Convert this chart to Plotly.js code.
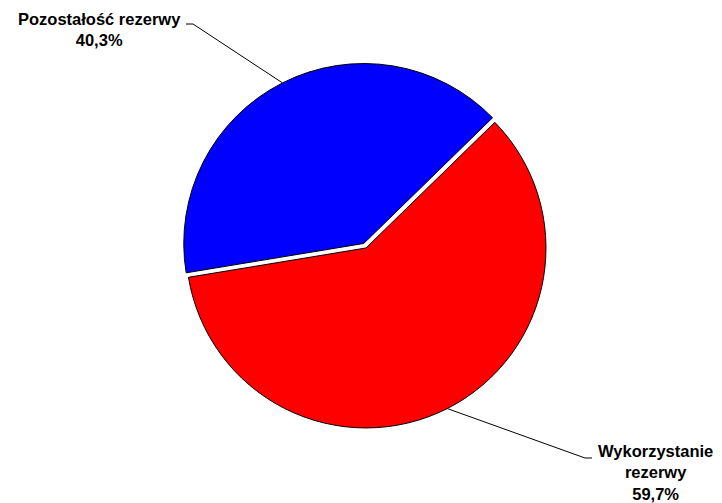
<!DOCTYPE html>
<html>
<head>
<meta charset="utf-8">
<script src="https://cdn.plot.ly/plotly-3.0.1.min.js"></script>
<style>html,body{margin:0;padding:0;background:#fff;}#chart{width:722px;height:503px;}</style>
</head>
<body>
<div id="chart"></div>
<script>
// Data
var categories = ["Wykorzystanie rezerwy", "Pozostałość rezerwy"];
var labelLines = [["Wykorzystanie", "rezerwy"], ["Pozostałość rezerwy"]];
var values = [59.7, 40.3];
var valueLabels = ["59,7%", "40,3%"];
var colors = ["#FF0000", "#0000FF"];
var pulls = [0, 0.028];

var W = 722, H = 503;
var rotationDeg = 45.7;
var domX = [0.2507, 0.7632];
var domY = [0.1392, 0.8748];

// pie geometry (pixel space), mirroring Plotly's own layout of the pie
var cx = (domX[0] + domX[1]) / 2 * W;
var cy = H - (domY[0] + domY[1]) / 2 * H;
var maxPull = Math.max.apply(null, pulls);
var r = Math.min((domX[1] - domX[0]) * W, (domY[1] - domY[0]) * H) / (2 + 2 * maxPull);
var total = values.reduce(function (a, b) { return a + b; }, 0);

var mids = [];
var ang = rotationDeg * Math.PI / 180;
values.forEach(function (v, i) {
  var span = v / total * 2 * Math.PI;
  var m = ang + span / 2;
  var off = pulls[i] * r;
  mids.push({
    x: cx + (r + off) * Math.sin(m),
    y: cy - (r + off) * Math.cos(m)
  });
  ang += span;
});

function px(x) { return x / W; }
function py(y) { return 1 - y / H; }

// label anchors (layout only)
var labelPos = [
  { x: 655, y: 472, elbow: [585, 458], end: [592, 458] },
  { x: 99, y: 30, elbow: [193, 24], end: [186, 24] }
];

var annotations = [];
var shapes = [];
categories.forEach(function (c, i) {
  var lp = labelPos[i];
  annotations.push({
    xref: 'paper', yref: 'paper',
    x: px(lp.x), y: py(lp.y),
    xanchor: 'center', yanchor: 'middle',
    text: labelLines[i].concat([valueLabels[i]]).map(function (s) { return '<b>' + s + '</b>'; }).join('<br>'),
    showarrow: false,
    align: 'center',
    font: { family: 'Liberation Sans, Arial, sans-serif', size: 16.5, color: '#000' }
  });
  var p = mids[i];
  shapes.push({
    type: 'path', xref: 'paper', yref: 'paper',
    path: 'M' + px(p.x) + ',' + py(p.y) + ' L' + px(lp.elbow[0]) + ',' + py(lp.elbow[1]) +
          ' L' + px(lp.end[0]) + ',' + py(lp.end[1]),
    line: { color: '#000', width: 1 }
  });
});

var trace = {
  type: 'pie',
  labels: categories,
  values: values,
  sort: false,
  direction: 'clockwise',
  rotation: rotationDeg,
  pull: pulls,
  textinfo: 'none',
  hoverinfo: 'none',
  showlegend: false,
  domain: { x: domX, y: domY },
  marker: { colors: colors, line: { color: '#000', width: 1 } }
};

var layout = {
  width: W, height: H,
  margin: { l: 0, r: 0, t: 0, b: 0 },
  paper_bgcolor: '#fff',
  showlegend: false,
  annotations: annotations,
  shapes: shapes
};

Plotly.newPlot('chart', [trace], layout, { staticPlot: true, displayModeBar: false });
</script>
</body>
</html>
